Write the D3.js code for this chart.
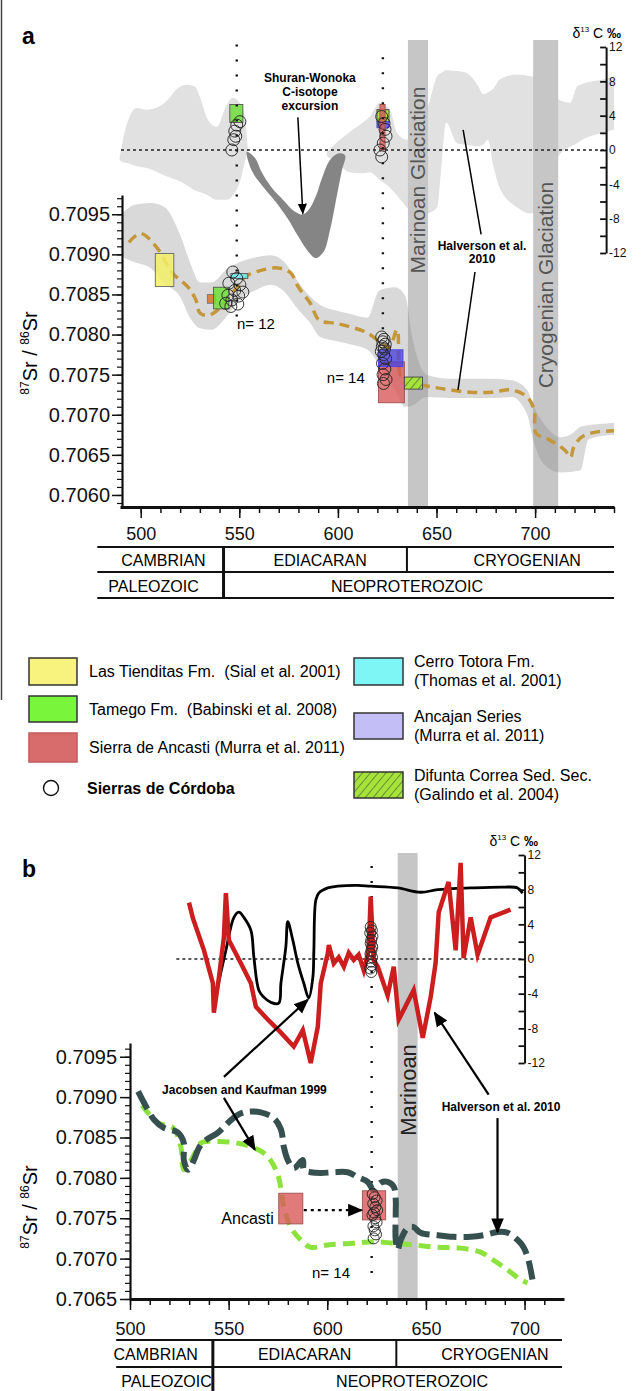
<!DOCTYPE html>
<html>
<head>
<meta charset="utf-8">
<script src="https://cdnjs.cloudflare.com/ajax/libs/d3/7.8.5/d3.min.js"></script>
<style>
body { margin: 0; background: #fff; }
svg { display: block; font-family: "Liberation Sans", Arial, Helvetica, sans-serif; }
</style>
</head>
<body>
<svg id="fig" width="643" height="1391"></svg>
<script>
// ---------------- data (ages in Ma, Sr ratio, d13C permil) ----------------
// panel a: Sr curve of Halverson et al. 2010
let srCurveA = [[494,0.70915],[500,0.70926],[508,0.70909],[516,0.70877],[524,0.70859],[528,0.70843],[530,0.70827],
  [534.5,0.70824],[540.5,0.70834],[544.5,0.70847],[549,0.70859],[553,0.70872],[561,0.70880],[569.5,0.70883],
  [576,0.70877],[580,0.70859],[586,0.70839],[590.5,0.70818],[599,0.70814],[607,0.70809],[615,0.70802],
  [622,0.70789],[626,0.70784],[630,0.70806],[632,0.70747],[636,0.70741],[647,0.70735],[657,0.70731],
  [667.5,0.70728],[678,0.70728],[688,0.70731],[696,0.70722],[699.5,0.70706],[700.5,0.70677],[707,0.70669],
  [715,0.70656],[718,0.70647],[719.5,0.70659],[723.5,0.70672],[730,0.70678],[740,0.70680]];
// grey envelope round the Sr curve: [age, high, low]
let srEnvA = [[491,0.70952,0.70896],[497,0.70962,0.70890],[505,0.70964,0.70883],[512,0.70959,0.70864],
  [520,0.70924,0.70847],[525,0.70890,0.70821],[530,0.70865,0.70808],[536,0.70865,0.70806],[543,0.70880,0.70821],
  [550,0.70890,0.70843],[558,0.70896,0.70855],[566,0.70899,0.70862],[573,0.70890,0.70853],[578,0.70872,0.70837],
  [586,0.70847,0.70814],[591,0.70837,0.70797],[599,0.70830,0.70792],[606,0.70826,0.70788],[615,0.70821,0.70781],
  [621,0.70855,0.70762],[629,0.70859,0.70731],[634,0.70849,0.70710],[638,0.70793,0.70712],[645,0.70750,0.70722],
  [657,0.70745,0.70721],[677,0.70745,0.70721],[688,0.70743,0.70722],[696,0.70731,0.70700],[699,0.70712,0.70669],
  [705,0.70687,0.70637],[713,0.70672,0.70628],[719,0.70677,0.70629],[723,0.70685,0.70631],[727,0.70687,0.70669],
  [736,0.70689,0.70674],[740,0.70690,0.70675]];
// d13C envelope (two pieces): [age, high, low]
let c13EnvA1 = [[489.3,-0.9,-1.2],[491,1.2,-1.4],[494.4,3.9,-1.6],[498,4.9,-1.9],[503,4.7,-2.1],[509.6,5.1,-2.7],
  [514.7,6.1,-3.2],[518.3,7.1,-3.5],[523.4,7.6,-4.1],[527.4,7.4,-4.7],[530,6.2,-4.9],[533.5,3.8,-5.2],
  [538.6,2.7,-5.8],[543.7,5.3,-5.8],[546.7,6.1,-5.3],[551.3,5.1,-2.9],[553.3,2.9,-0.9],[554.3,0.2,-0.2]];
let c13EnvA2 = [[594.4,-0.2,-0.7],[601,1.2,-1.8],[606,2.1,-2.6],[612.7,3.2,-2.7],[616.2,3.9,-2.6],[621.3,5.5,-3.5],
  [626.4,4.7,-4.4],[630,2.0,-5.3],[635,1.2,-6.7],[640.6,2.9,-8.0],[645.7,5.1,-7.4],[650.3,8.6,-6.7],[652.5,9.0,-2.0],
  [654.8,9.3,3.2],[660.4,9.2,0.8],[665,9.0,0.6],[671,7.5,0.4],[673.6,6.5,0.6],[676,6.7,1.2],[679,7.2,-2.0],
  [682,8.2,-4.4],[691,8.8,-6.7],[697.5,8.6,-7.4],[703,8.4,-7.0],[708,7.5,-5.5],[711.7,5.9,-0.8],[717.8,5.5,0.4],
  [721.3,7.4,0.8],[724,7.7,1.2],[734.5,8.2,2.0],[740,8.5,2.4]];
// Shuran-Wonoka excursion band, outer edge then inner edge
let shuranOuter = [[553.8,-0.2],[556.3,-2.4],[561.4,-4.1],[568,-5.9],[574.6,-8],[579.7,-10],[584.8,-11.8],
  [588.8,-12.6],[592.9,-11.8],[595.9,-9.4],[598,-7.1],[600,-4.7],[602,-2.4],[603.6,-0.6]];
let shuranInner = [[600,-0.4],[595.9,-1.2],[591.9,-3.3],[588.8,-5.4],[584.8,-7.1],[581.7,-7.5],[577.7,-7.1],
  [572.6,-5.9],[566.5,-4.4],[561.4,-2.6],[557.9,-0.9]];

// boxes: [age from, age to, low, high, unit]
let srBoxA = [[507.4,516.8,0.70860,0.70901,'tien'],[533.8,537.9,0.70839,0.70850,'orange'],
  [536.9,544.7,0.70832,0.70859,'tamego'],[545.7,554.3,0.70870,0.70876,'totora'],
  [620.6,633.7,0.70715,0.70766,'ancasti'],[620.6,633.0,0.70760,0.70781,'ancajan'],
  [633.7,642.9,0.70732,0.70747,'difunta']];
let c13BoxA = [[545.2,551.8,3.2,5.3,'tamego'],[619.8,625.9,3.3,4.7,'difunta'],[619.8,625.9,2.6,3.3,'ancajan'],
  [621.3,623.9,0.0,5.3,'ancasti']];
let srBoxB = [[575.4,587.6,0.70743,0.70781,'ancasti'],[617.8,629.6,0.70748,0.70784,'ancasti']];

// Sierras de Cordoba samples
let cordC13AgeA = [548.7,547.7,548.2,547.2,546.2,550.3,622.2,623.4,623.9,624.4,623.0,621.3,622.2];
let cordC13A = [2.9,2.2,1.6,1.2,0.0,3.3,3.9,3.1,2.4,1.6,0.8,0.0,-0.8];
let cordSrAgeA = [546.7,548.7,544.7,550.3,547.7,544.2,549.7,546.2,543.1,549.2,545.7,551.8,
  622.2,623.4,622.8,624.0,622.5,623.6,622.0,623.2,624.2,622.6,623.8,622.9,624.4,623.1];
let cordSrA = [0.70878,0.70870,0.70864,0.70862,0.70855,0.70849,0.70848,0.70843,0.70839,0.70838,0.70835,0.70853,
  0.70797,0.70794,0.70791,0.70788,0.70785,0.70782,0.70779,0.70775,0.70770,0.70764,0.70757,0.70750,0.70744,0.70739];
let cordC13AgeB = [622.0,622.6,621.8,622.9,622.3,622.0,622.8,622.4,621.9,622.7,622.2,622.5,621.8,622.3];
let cordC13B = [3.7,3.3,3.0,2.6,2.2,1.8,1.4,1.0,0.6,0.2,-0.3,-0.7,-1.1,-1.5];
let cordSrAgeB = [623.0,624.0,625.0,623.3,624.4,625.3,623.7,622.9,624.3,625.0,623.4,624.1,624.7,623.5];
let cordSrB = [0.70780,0.70776,0.70772,0.70768,0.70764,0.70760,0.70757,0.70754,0.70750,0.70745,0.70740,0.70735,0.70730,0.70725];

// panel b: d13C curves
let c13Jacobsen = [[543.5,-4.2],[548.6,1.0],[552.7,4.8],[555.2,5.4],[557.7,4.8],[561.3,3.3],[562.8,0.2],[565.3,-3.6],
  [567.8,-4.4],[571.4,-5.0],[575.4,-5.1],[576.5,-2.8],[579,1.4],[580,4.3],[582.5,2.2],[585.1,-0.5],[588.1,-2.8],
  [590.6,-4.5],[592.7,-2.1],[593.2,1.0],[594.2,6.8],[595.7,7.6],[600.3,8.2],[605.3,8.4],[615.4,8.5],[622,8.4],
  [635.7,8.2],[647.3,7.7],[656,8.0],[672.7,8.2],[689.4,8.3],[696.5,8.2],[699,7.6]];
let c13Halverson = [[529.9,6.5],[531.9,4.7],[537.5,1.0],[542,-2.8],[542.5,-6.2],[545.1,-2.1],[547.6,2.5],[548.6,7.6],
  [550.1,2.2],[556.2,-0.5],[561.3,-2.8],[563.8,-5.5],[569.9,-7.0],[576.5,-8.5],[583,-10.1],[587.6,-8.2],[591.6,-12.0],
  [595.2,-7.8],[596.7,-2.8],[600.3,0.7],[600.8,1.6],[603.3,-0.5],[605.8,0.2],[608.4,-0.9],[610.9,0.7],[613.4,-0.1],
  [615.9,0.5],[618.5,-1.3],[621,1.0],[622,7.2],[623.5,-0.1],[625.6,-0.9],[630.6,-4.2],[633.7,-0.9],[636.2,-7.0],
  [643.8,-3.6],[648.4,-9.1],[652.4,-4.4],[654.9,-0.5],[656.5,5.4],[661.5,8.9],[665.1,1.0],[667.6,11.1],[669.1,0.1],
  [672.7,4.8],[676.2,0.5],[682.8,4.8],[692.9,5.7]];
// panel b: Sr curves
let srHalversonB = [[504.1,0.70907],[507.1,0.70893],[512.2,0.70872],[517.2,0.70862],[524.3,0.70856],[527.3,0.70843],
  [527.3,0.70822],[529.4,0.70810],[532.4,0.70822],[534.9,0.70837],[537.5,0.70845],[544.6,0.70856],[549.6,0.70868],
  [554.7,0.70878],[559.7,0.70882],[566.3,0.70881],[572.9,0.70874],[576.5,0.70860],[578,0.70838],[580,0.70822],
  [583,0.70812],[587.6,0.70822],[588.1,0.70810],[591.6,0.70807],[596.7,0.70806],[603.3,0.70807],[610.4,0.70807],
  [615.4,0.70801],[620.5,0.70795],[623.5,0.70785],[627.1,0.70794],[630.6,0.70795],[633.7,0.70789],[634.7,0.70773],
  [634.7,0.70757],[634.7,0.70723],[635.7,0.70711],[637.2,0.70723],[640.8,0.70738],[643.8,0.70739],[647.3,0.70732],
  [656,0.70729],[664.1,0.70727],[672.7,0.70727],[679.2,0.70729],[686.3,0.70733],[691.4,0.70732],[696.5,0.70723],
  [699.5,0.70714],[702,0.70698],[704,0.70674]];
let srJacobsenB = [[506.1,0.70890],[514.2,0.70868],[521.8,0.70862],[525.8,0.70838],[527.3,0.70810],[531.9,0.70826],
  [535.9,0.70843],[544.6,0.70845],[554.7,0.70843],[564.8,0.70835],[569.9,0.70826],[574.9,0.70804],[578,0.70764],
  [581.5,0.70739],[586.6,0.70723],[591.6,0.70714],[600.3,0.70717],[613.4,0.70719],[623.5,0.70721],[633.7,0.70719],
  [643.8,0.70717],[656,0.70714],[667.6,0.70713],[677.7,0.70708],[684.3,0.70698],[691.4,0.70686],[698,0.70674],
  [701.5,0.70670]];

// glaciations [from, to, name]
let glacA = [[635.5,645.7,'Marinoan Glaciation'],[699,711.7,'Cryogenian Glaciation']];
let glacB = [[635.7,645.8,'Marinoan']];
let sampleAgesA = [548.7, 622.8];
let sampleAgeB = 622.5;

// ticks and time scale
let srTicksA = [0.7060,0.7065,0.7070,0.7075,0.7080,0.7085,0.7090,0.7095];
let srTicksB = [0.7065,0.7070,0.7075,0.7080,0.7085,0.7090,0.7095];
let c13Ticks = [-12,-10,-8,-6,-4,-2,0,2,4,6,8,10,12];
let ageTicks = [500,550,600,650,700];
let periodNames = ['CAMBRIAN','EDIACARAN','CRYOGENIAN'];
let eraNames = ['PALEOZOIC','NEOPROTEROZOIC'];
let periodBounds = [542, 635];
let periodLabelAgeA = [511.5, 591, 696];
let eraLabelAgeA = [506.5, 635];
let periodLabelAgeB = [513, 588.5, 685];
let eraLabelAgeB = [518.5, 643];

// ---------------- setup ----------------
let svg = d3.select('#fig');
let defs = svg.append('defs');

let hatch = defs.append('pattern').attr('id', 'hatch').attr('patternUnits', 'userSpaceOnUse')
  .attr('width', 6).attr('height', 6).attr('patternTransform', 'rotate(40)');
hatch.append('rect').attr('width', 6).attr('height', 6).attr('fill', '#a6e33a');
hatch.append('line').attr('x1', 0).attr('y1', 0).attr('x2', 0).attr('y2', 6).attr('stroke', '#222').attr('stroke-width', 0.9);

function marker(id, size) {
  defs.append('marker').attr('id', id).attr('viewBox', '0 0 10 10').attr('refX', 9).attr('refY', 5)
    .attr('markerWidth', size).attr('markerHeight', size).attr('markerUnits', 'userSpaceOnUse').attr('orient', 'auto')
    .append('path').attr('d', 'M0,0.8 L10,5 L0,9.2 z').attr('fill', '#000');
}
marker('arrowS', 11);
marker('arrowL', 15);

let unitStyle = {
  tien:    { fill: '#f2ee66', op: 0.85, stroke: '#666' },
  orange:  { fill: '#d9782f', op: 0.9,  stroke: '#777' },
  tamego:  { fill: '#6fdd3a', op: 0.85, stroke: '#555' },
  totora:  { fill: '#72e6ee', op: 0.9,  stroke: '#555' },
  ancasti: { fill: '#d95a5a', op: 0.8,  stroke: '#a05050' },
  ancajan: { fill: '#4b44e0', op: 0.8,  stroke: '#4b44e0' },
  difunta: { fill: 'url(#hatch)', op: 1, stroke: '#444' }
};

// scales
let xA = d3.scaleLinear().domain([489.5, 740]).range([120, 614]);
let srA = d3.scaleLinear().domain([0.70585, 0.70974]).range([507, 195]);
let cA = d3.scaleLinear().domain([-12, 12]).range([253, 47]);
let xB = d3.scaleLinear().domain([500, 720]).range([130, 564]);
let srB = d3.scaleLinear().domain([0.7065, 0.70967]).range([1299, 1043]);
let cB = d3.scaleLinear().domain([-12, 12]).range([1063, 855]);

function drawBox(g, xs, ys, b) {
  let st = unitStyle[b[4]];
  g.append('rect')
    .attr('x', xs(b[0])).attr('width', xs(b[1]) - xs(b[0]))
    .attr('y', ys(b[3])).attr('height', ys(b[2]) - ys(b[3]))
    .attr('fill', st.fill).attr('fill-opacity', st.op)
    .attr('stroke', st.stroke).attr('stroke-width', 0.9);
}

function drawCircles(g, xs, ys, ages, vals, r) {
  g.selectAll(null).data(vals).enter().append('circle')
    .attr('cx', (d, i) => xs(ages[i])).attr('cy', d => ys(d)).attr('r', r)
    .attr('fill', 'none').attr('stroke', '#222').attr('stroke-width', 0.9);
}

function pointer(g, p0, p1, mark, dash) {
  let l = g.append('line').attr('x1', p0[0]).attr('y1', p0[1]).attr('x2', p1[0]).attr('y2', p1[1])
    .attr('stroke', '#000').attr('stroke-width', mark == 'arrowL' ? 2.2 : 1.5);
  if (mark) l.attr('marker-end', `url(#${mark})`);
  if (dash) l.attr('stroke-dasharray', dash);
}

function label(g, x, y, txt, size, bold, anchor) {
  return g.append('text').attr('x', x).attr('y', y).attr('dy', '0.35em')
    .attr('text-anchor', anchor || 'middle').style('font-size', size + 'px')
    .style('font-weight', bold ? 'bold' : 'normal').style('white-space', 'pre').text(txt);
}

function srTitle(cx, cy) {
  let t = svg.append('text').attr('transform', `translate(${cx},${cy}) rotate(-90)`)
    .attr('text-anchor', 'middle').style('font-size', '20px');
  t.append('tspan').text('87').style('font-size', '12px').attr('dy', -8);
  t.append('tspan').text('Sr / ').attr('dy', 8);
  t.append('tspan').text('86').style('font-size', '12px').attr('dy', -8);
  t.append('tspan').text('Sr').attr('dy', 8);
}

function c13Title(xEnd, y) {
  let t = svg.append('text').attr('x', xEnd).attr('y', y).attr('text-anchor', 'end').style('font-size', '14px');
  t.append('tspan').text('δ');
  t.append('tspan').text('13').style('font-size', '8px').attr('dy', -6);
  t.append('tspan').text(' C ').attr('dy', 6);
  t.append('tspan').text('‰').style('font-weight', 'bold');
}

function fixAxis(g, size) {
  g.attr('font-family', null).attr('font-size', null);
  g.selectAll('text').style('font-size', size + 'px').attr('fill', '#111');
  g.selectAll('line').attr('stroke', '#111');
  g.select('.domain').attr('stroke', '#111');
}

function srAxis(xPos, ys, majors, minors, padding) {
  let gm = svg.append('g').attr('transform', `translate(${xPos},0)`)
    .call(d3.axisLeft(ys).tickValues(minors).tickSize(5).tickFormat('').tickSizeOuter(0));
  gm.select('.domain').remove();
  gm.selectAll('line').attr('stroke', '#111').attr('stroke-width', 1.2);
  let g = svg.append('g').attr('transform', `translate(${xPos},0)`)
    .call(d3.axisLeft(ys).tickValues(majors).tickSize(10).tickPadding(padding)
      .tickFormat(d3.format('.4f')).tickSizeOuter(0));
  fixAxis(g, 20);
  g.select('.domain').attr('stroke-width', 2.2);
  g.selectAll('.tick line').attr('stroke-width', 1.5);
}

function ageAxis(yPos, xs, minors, padding) {
  let gm = svg.append('g').attr('transform', `translate(0,${yPos})`)
    .call(d3.axisBottom(xs).tickValues(minors).tickSize(6).tickFormat('').tickSizeOuter(0));
  gm.select('.domain').remove();
  gm.selectAll('line').attr('stroke', '#111').attr('stroke-width', 1.5);
  let g = svg.append('g').attr('transform', `translate(0,${yPos})`)
    .call(d3.axisBottom(xs).tickValues(ageTicks).tickSize(11).tickPadding(padding).tickSizeOuter(0));
  fixAxis(g, 18);
  g.select('.domain').attr('stroke-width', 3);
  g.selectAll('.tick line').attr('stroke-width', 1.5);
}

function c13Axis(xPos, ys) {
  let g = svg.append('g').attr('transform', `translate(${xPos},0)`)
    .call(d3.axisRight(ys).tickValues(c13Ticks).tickSizeInner(-6).tickSizeOuter(0).tickPadding(3)
      .tickFormat(d => d % 4 === 0 ? String(d) : ''));
  fixAxis(g, 12);
  g.select('.domain').attr('stroke-width', 2);
  g.selectAll('.tick line').attr('stroke-width', 1.8);
}

function periodTable(xs, top, mid, bot, a0, a1, pAt, eAt) {
  let g = svg.append('g');
  [top, mid, bot].forEach(y => {
    if (y == null) return;
    g.append('line').attr('x1', xs(a0)).attr('x2', xs(a1)).attr('y1', y).attr('y2', y)
      .attr('stroke', '#111').attr('stroke-width', 1.8);
  });
  g.append('line').attr('x1', xs(periodBounds[0])).attr('x2', xs(periodBounds[0]))
    .attr('y1', top).attr('y2', bot == null ? 1391 : bot).attr('stroke', '#111').attr('stroke-width', 3);
  g.append('line').attr('x1', xs(periodBounds[1])).attr('x2', xs(periodBounds[1]))
    .attr('y1', top).attr('y2', mid).attr('stroke', '#111').attr('stroke-width', 2);
  periodNames.forEach((n, i) => label(g, xs(pAt[i]), (top + mid) / 2 + 1, n, 16, false));
  eraNames.forEach((n, i) => label(g, xs(eAt[i]), mid + 14, n, 16, false));
}

// frame line at the left edge
svg.append('line').attr('x1', 1.5).attr('x2', 1.5).attr('y1', 0).attr('y2', 700).attr('stroke', '#444').attr('stroke-width', 1.5);

// ================= PANEL A =================
let ga = svg.append('g');
let envC = (xs, ys) => d3.area().x(d => xs(d[0])).y0(d => ys(d[2])).y1(d => ys(d[1])).curve(d3.curveMonotoneX);

[c13EnvA1, c13EnvA2].forEach(env => {
  ga.append('path').datum(env).attr('d', envC(xA, cA)).attr('fill', '#e1e1e1');
});
ga.append('path').datum(shuranOuter.concat(shuranInner))
  .attr('d', d3.line().x(d => xA(d[0])).y(d => cA(d[1])).curve(d3.curveCatmullRomClosed))
  .attr('fill', '#858585');

glacA.forEach((b, i) => {
  ga.append('rect').attr('x', xA(b[0])).attr('width', xA(b[1]) - xA(b[0]))
    .attr('y', 40).attr('height', 507 - 40).attr('fill', '#c6c6c6');
  let cy = i == 0 ? 180 : 285;
  ga.append('text').attr('transform', `translate(${(xA(b[0]) + xA(b[1])) / 2 + 7},${cy}) rotate(-90)`)
    .attr('text-anchor', 'middle').style('font-size', '21px').attr('fill', '#555').text(b[2]);
});

ga.append('line').attr('x1', xA(490)).attr('x2', xA(736)).attr('y1', cA(0)).attr('y2', cA(0))
  .attr('stroke', '#222').attr('stroke-width', 1.4).attr('stroke-dasharray', '3,3');

ga.append('path').datum(srEnvA).attr('d', envC(xA, srA)).attr('fill', '#8a8a8a').attr('fill-opacity', 0.32);
ga.append('path').datum(srCurveA)
  .attr('d', d3.line().x(d => xA(d[0])).y(d => srA(d[1])).curve(d3.curveCatmullRom))
  .attr('fill', 'none').attr('stroke', '#c4983a').attr('stroke-width', 3.5).attr('stroke-dasharray', '10,6');

srBoxA.forEach(b => drawBox(ga, xA, srA, b));
c13BoxA.forEach(b => drawBox(ga, xA, cA, b));

// sample columns (dotted)
ga.append('line').attr('x1', xA(sampleAgesA[0])).attr('x2', xA(sampleAgesA[0])).attr('y1', cA(12.3)).attr('y2', srA(0.70822))
  .attr('stroke', '#111').attr('stroke-width', 2.4).attr('stroke-dasharray', '2,13');
ga.append('line').attr('x1', xA(sampleAgesA[1])).attr('x2', xA(sampleAgesA[1])).attr('y1', cA(10.8)).attr('y2', srA(0.70800))
  .attr('stroke', '#111').attr('stroke-width', 2.4).attr('stroke-dasharray', '2,13');

drawCircles(ga, xA, cA, cordC13AgeA, cordC13A, 6);
drawCircles(ga, xA, srA, cordSrAgeA, cordSrA, 6);

// annotations a
['Shuran-Wonoka', 'C-isotope', 'excursion'].forEach((t, i) => label(ga, xA(585.8), cA([8.4, 6.8, 5.2][i]), t, 12, true));
pointer(ga, [xA(579.7), cA(3.8)], [xA(582.2), cA(-7.4)], 'arrowS');
label(ga, xA(673.1), srA(0.70911), 'Halverson et al.', 12, true);
label(ga, xA(673.1), srA(0.70895), '2010', 12, true);
pointer(ga, [xA(672.6), srA(0.70925)], [xA(663.5), cA(2.35)]);
pointer(ga, [xA(669.5), srA(0.70878)], [xA(660.9), srA(0.70731)]);
label(ga, xA(558.4), srA(0.70814), 'n= 12', 15, false);
label(ga, xA(604), srA(0.70746), 'n= 14', 15, false);

// axes a
srAxis(122, srA, srTicksA, d3.range(59, 98).map(k => +(0.7 + k / 10000).toFixed(4)), 2);
ageAxis(507, xA, d3.range(500, 741, 10), 9);
c13Axis(xA(736), cA);
c13Title(621, 38);
srTitle(37, 353);
svg.append('text').attr('x', 22).attr('y', 44).style('font-size', '23px').style('font-weight', 'bold').text('a');
periodTable(xA, 547, 572, 598, 478, 740, periodLabelAgeA, eraLabelAgeA);

// ================= LEGEND =================
let gl = svg.append('g');
let legLeft = [['Las Tienditas Fm.  (Sial et al. 2001)', '#f8f37e', 658, 685],
               ['Tamego Fm.  (Babinski et al. 2008)', '#79f53c', 696, 722],
               ['Sierra de Ancasti (Murra et al. 2011)', '#d86c6c', 733, 762]];
legLeft.forEach(d => {
  gl.append('rect').attr('x', 29).attr('y', d[2]).attr('width', 48).attr('height', d[3] - d[2])
    .attr('fill', d[1]).attr('stroke', d[1] == '#d86c6c' ? '#c05a5a' : '#333').attr('stroke-width', 1.5);
  label(gl, 89, (d[2] + d[3]) / 2, d[0], 16, false, 'start');
});
gl.append('circle').attr('cx', 51).attr('cy', 788).attr('r', 7.5).attr('fill', 'none').attr('stroke', '#111').attr('stroke-width', 1.4);
label(gl, 87, 788, 'Sierras de Córdoba', 16, true, 'start');
let legRight = [['Cerro Totora Fm.', '(Thomas et al. 2001)', '#7ff6f6', 658, 685],
                ['Ancajan Series', '(Murra et al. 2011)', '#c3bff6', 713, 739],
                ['Difunta Correa Sed. Sec.', '(Galindo et al. 2004)', 'url(#hatch)', 772, 798]];
legRight.forEach(d => {
  gl.append('rect').attr('x', 354).attr('y', d[3]).attr('width', 49).attr('height', d[4] - d[3])
    .attr('fill', d[2]).attr('stroke', '#333').attr('stroke-width', 1.5);
  label(gl, 414, (d[3] + d[4]) / 2 - 10, d[0], 16, false, 'start');
  label(gl, 414, (d[3] + d[4]) / 2 + 9, d[1], 16, false, 'start');
});

// ================= PANEL B =================
let gb = svg.append('g');
glacB.forEach(b => {
  gb.append('rect').attr('x', xB(b[0])).attr('width', xB(b[1]) - xB(b[0]))
    .attr('y', 853).attr('height', 1298 - 853).attr('fill', '#c6c6c6');
});
gb.append('line').attr('x1', xB(523.5)).attr('x2', xB(700)).attr('y1', cB(0)).attr('y2', cB(0))
  .attr('stroke', '#222').attr('stroke-width', 1.4).attr('stroke-dasharray', '3,3');
gb.append('line').attr('x1', xB(sampleAgeB)).attr('x2', xB(sampleAgeB)).attr('y1', 866).attr('y2', srB(0.70677))
  .attr('stroke', '#111').attr('stroke-width', 2.4).attr('stroke-dasharray', '2,13');

let lineC = d3.line().x(d => xB(d[0])).y(d => cB(d[1])).curve(d3.curveLinear);
gb.append('path').datum(c13Jacobsen).attr('d', d3.line().x(d => xB(d[0])).y(d => cB(d[1])).curve(d3.curveCatmullRom))
  .attr('fill', 'none').attr('stroke', '#000').attr('stroke-width', 2.8);
gb.append('path').datum(c13Halverson).attr('d', lineC)
  .attr('fill', 'none').attr('stroke', '#cc1e1e').attr('stroke-width', 4.5).attr('stroke-linejoin', 'miter');
drawCircles(gb, xB, cB, cordC13AgeB, cordC13B, 5.5);

let lineS = d3.line().x(d => xB(d[0])).y(d => srB(d[1])).curve(d3.curveCatmullRom);
gb.append('path').datum(srJacobsenB).attr('d', lineS)
  .attr('fill', 'none').attr('stroke', '#8de33d').attr('stroke-width', 5).attr('stroke-dasharray', '12,7');
gb.append('path').datum(srHalversonB).attr('d', lineS)
  .attr('fill', 'none').attr('stroke', '#36504f').attr('stroke-width', 6).attr('stroke-dasharray', '20,7');
srBoxB.forEach(b => drawBox(gb, xB, srB, b));
drawCircles(gb, xB, srB, cordSrAgeB, cordSrB, 5.5);

label(gb, xB(558), srB(0.70909), 'Jacobsen and Kaufman 1999', 12, true);
pointer(gb, [xB(547.6), srB(0.70925)], [xB(590.1), cB(-4.7)], 'arrowL');
pointer(gb, [xB(547.6), srB(0.70899)], [xB(563.3), srB(0.70835)], 'arrowL');
label(gb, xB(688.1), srB(0.70888), 'Halverson et al. 2010', 12, true);
pointer(gb, [xB(681.8), srB(0.70903)], [xB(654.4), cB(-6.2)], 'arrowL');
pointer(gb, [xB(686.3), srB(0.70874)], [xB(686.3), srB(0.70733)], 'arrowL');
pointer(gb, [xB(588.1), srB(0.70760)], [xB(617.4), srB(0.70760)], 'arrowL', '3,4');
label(gb, xB(572.9), srB(0.70750), 'Ancasti', 16, false, 'end');
label(gb, xB(601.9), srB(0.70682), 'n= 14', 15, false);
gb.append('text').attr('transform', `translate(${(xB(glacB[0][0]) + xB(glacB[0][1])) / 2 + 8},1090) rotate(-90)`)
  .attr('text-anchor', 'middle').style('font-size', '22px').attr('fill', '#222').text(glacB[0][2]);

srAxis(130, srB, srTicksB, d3.range(65, 97).map(k => +(0.7 + k / 10000).toFixed(4)), 3);
ageAxis(1299, xB, d3.range(500, 711, 10), 12);
c13Axis(xB(700), cB);
c13Title(538, 846);
srTitle(37, 1207);
svg.append('text').attr('x', 22).attr('y', 877).style('font-size', '23px').style('font-weight', 'bold').text('b');
periodTable(xB, 1340, 1367, null, 493, 719, periodLabelAgeB, eraLabelAgeB);
</script>
</body>
</html>
